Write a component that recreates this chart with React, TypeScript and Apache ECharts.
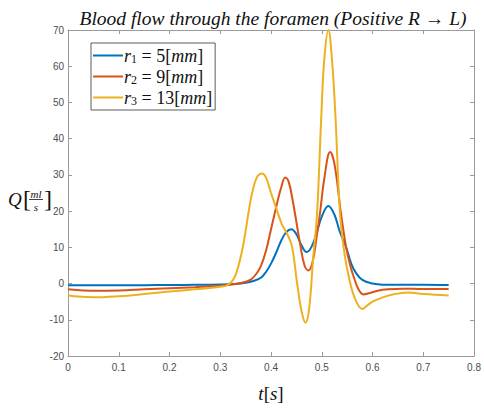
import React, { useEffect, useRef } from "react";
import * as echarts from "echarts";

const seriesNames = ["r1", "r2", "r3"];
const legendLabels: Record<string, string> = {
  r1: "{i|r}{sub|1}{n| = 5[}{i|mm}{n|]}",
  r2: "{i|r}{sub|2}{n| = 9[}{i|mm}{n|]}",
  r3: "{i|r}{sub|3}{n| = 13[}{i|mm}{n|]}",
};
const colors = ["#0072BD", "#D95319", "#EDB120"];

const xTicks = [0, 0.1, 0.2, 0.3, 0.4, 0.5, 0.6, 0.7, 0.8];
const yTicks = [-20, -10, 0, 10, 20, 30, 40, 50, 60, 70];

const r1: [number, number][] = [
  [0, -0.45], [0.05, -0.5], [0.1, -0.5], [0.15, -0.45], [0.2, -0.4], [0.25, -0.35],
  [0.3, -0.25], [0.33, -0.1], [0.35, 0.2], [0.365, 0.7], [0.38, 1.6], [0.39, 3.2],
  [0.4, 5.5], [0.41, 8.5], [0.42, 11.8], [0.43, 14.2], [0.44, 15.0], [0.45, 13.6],
  [0.46, 10.6], [0.47, 8.7], [0.48, 10.2], [0.49, 14], [0.5, 18.5], [0.513, 21.4],
  [0.525, 19], [0.535, 14.5], [0.548, 10], [0.558, 5.5], [0.567, 3], [0.58, 1],
  [0.6, 0], [0.62, -0.3], [0.65, -0.3], [0.7, -0.3], [0.75, -0.4],
];

const r2: [number, number][] = [
  [0, -1.6], [0.03, -1.9], [0.06, -2.0], [0.1, -1.9], [0.15, -1.6], [0.2, -1.3],
  [0.25, -1.0], [0.3, -0.6], [0.33, -0.1], [0.35, 0.5], [0.36, 1.1], [0.37, 2.5],
  [0.38, 4.8], [0.39, 9], [0.4, 15], [0.41, 21], [0.42, 26.5], [0.428, 29.3],
  [0.435, 28], [0.444, 21.9], [0.457, 11.2], [0.466, 5], [0.474, 3.6], [0.482, 6],
  [0.49, 13], [0.497, 20], [0.505, 29], [0.5165, 36.3], [0.525, 33], [0.538, 19.2],
  [0.548, 10], [0.556, 5], [0.564, 1.4], [0.572, -1.5], [0.582, -3], [0.595, -2.6],
  [0.61, -2.0], [0.63, -1.6], [0.66, -1.4], [0.7, -1.5], [0.75, -1.5],
];

const r3: [number, number][] = [
  [0, -3.2], [0.02, -3.6], [0.05, -3.8], [0.1, -3.5], [0.15, -2.9], [0.2, -2.2],
  [0.25, -1.6], [0.3, -0.9], [0.315, -0.4], [0.327, 1.4], [0.337, 5.5], [0.346, 11.2],
  [0.355, 19], [0.362, 24.5], [0.372, 29.3], [0.3825, 30.4], [0.39, 29.3], [0.4, 25],
  [0.412, 20.1], [0.421, 16.5], [0.431, 13.9], [0.441, 10.4], [0.451, 0.5], [0.46, -7.5],
  [0.468, -10.8], [0.475, -7], [0.483, 7], [0.4906, 19.2], [0.499, 46], [0.505, 62],
  [0.513, 70], [0.52, 62], [0.527, 46], [0.536, 19.2], [0.545, 8], [0.554, 1.4],
  [0.565, -4], [0.58, -7], [0.59, -6.0], [0.6, -5.0], [0.62, -3.8], [0.64, -3],
  [0.67, -2.5], [0.7, -2.9], [0.75, -3.3],
];

const allData = [r1, r2, r3];

export default function App() {
  const ref = useRef<HTMLDivElement>(null);
  useEffect(() => {
    if (!ref.current) return;
    const chart = echarts.init(ref.current, undefined, { renderer: "svg" });
    const axisColor = "#9a9a9a";
    const labelColor = "#4d4d4d";
    const sans = "Liberation Sans, Arial, sans-serif";
    const serif = "Liberation Serif, DejaVu Serif, serif";
    const xMin = xTicks[0];
    const xMax = xTicks[xTicks.length - 1];
    const yMin = yTicks[0];
    const yMax = yTicks[yTicks.length - 1];
    const mk = () => ({
      axisLine: { show: true, onZero: false, lineStyle: { color: axisColor, width: 1 } },
      axisTick: { show: true, inside: true, length: 4, lineStyle: { color: axisColor } },
      splitLine: { show: false },
    });
    chart.setOption({
      animation: false,
      backgroundColor: "#ffffff",
      title: {
        text: "Blood flow through the foramen (Positive R \u2192 L)",
        left: 268,
        textAlign: "center",
        top: 3,
        textStyle: { fontFamily: serif, fontStyle: "italic", fontWeight: "normal", fontSize: 19.5, color: "#111" },
      },
      grid: { left: 68, right: 3.5, top: 30, bottom: 41 },
      legend: {
        data: seriesNames.map((name) => ({ name, icon: "rect" })),
        orient: "vertical",
        left: 91,
        top: 43,
        itemWidth: 30,
        itemHeight: 2,
        itemGap: 0,
        padding: [2, 3, 2, 2],
        borderColor: "#333",
        borderWidth: 0.8,
        backgroundColor: "#fff",
        formatter: (name: string) => legendLabels[name],
        textStyle: {
          padding: [0, 0, 0, -4],
          lineHeight: 21,
          rich: {
            i: { fontFamily: serif, fontStyle: "italic", fontSize: 18, color: "#111", lineHeight: 21 },
            n: { fontFamily: serif, fontSize: 18, color: "#111", lineHeight: 21 },
            sub: { fontFamily: serif, fontSize: 12, color: "#111", padding: [7, 0, 0, 0] },
          },
        },
      },
      xAxis: [
        {
          type: "value",
          position: "bottom",
          min: xMin,
          max: xMax,
          interval: 0.1,
          ...mk(),
          axisLabel: {
            color: labelColor,
            fontFamily: sans,
            fontSize: 10,
            margin: 6,
            formatter: (v: number) => String(Number(v.toFixed(1))),
          },
          name: "{i|t}{n|[}{i|s}{n|]}",
          nameLocation: "middle",
          nameGap: 28,
          nameTextStyle: {
            rich: {
              i: { fontFamily: serif, fontStyle: "italic", fontSize: 19, color: "#111" },
              n: { fontFamily: serif, fontSize: 19, color: "#111" },
            },
          },
        },
        {
          type: "value",
          position: "top",
          min: xMin,
          max: xMax,
          interval: 0.1,
          ...mk(),
          axisLabel: { show: false },
        },
      ],
      yAxis: [
        {
          type: "value",
          position: "left",
          min: yMin,
          max: yMax,
          interval: 10,
          ...mk(),
          axisLabel: { color: labelColor, fontFamily: sans, fontSize: 10, margin: 4 },
        },
        {
          type: "value",
          position: "right",
          min: yMin,
          max: yMax,
          interval: 10,
          ...mk(),
          axisLabel: { show: false },
        },
      ],
      graphic: [
        {
          type: "group",
          left: 8,
          top: 187,
          children: [
            { type: "text", x: 0, y: 2, style: { text: "Q", font: `italic 19px ${serif}`, fill: "#111" } },
            { type: "text", x: 15, y: -1, style: { text: "[", font: `24px ${serif}`, fill: "#111" } },
            { type: "text", x: 28, y: 0, style: { text: "ml", font: `italic 11px ${serif}`, fill: "#111", align: "center" } },
            { type: "line", shape: { x1: 21, y1: 11.5, x2: 35, y2: 11.5 }, style: { stroke: "#111", lineWidth: 0.8 } },
            { type: "text", x: 28, y: 13, style: { text: "s", font: `italic 11px ${serif}`, fill: "#111", align: "center" } },
            { type: "text", x: 36, y: -1, style: { text: "]", font: `24px ${serif}`, fill: "#111" } },
          ],
        },
      ],
      series: seriesNames.map((name, i) => ({
        name,
        type: "line",
        xAxisIndex: 0,
        yAxisIndex: 0,
        data: allData[i],
        smooth: 0.4,
        symbol: "none",
        lineStyle: { color: colors[i], width: 2 },
        itemStyle: { color: colors[i] },
      })),
    });
    return () => chart.dispose();
  }, []);
  return <div ref={ref} style={{ width: 484, height: 408, position: "absolute", left: 0, top: 0 }} />;
}
